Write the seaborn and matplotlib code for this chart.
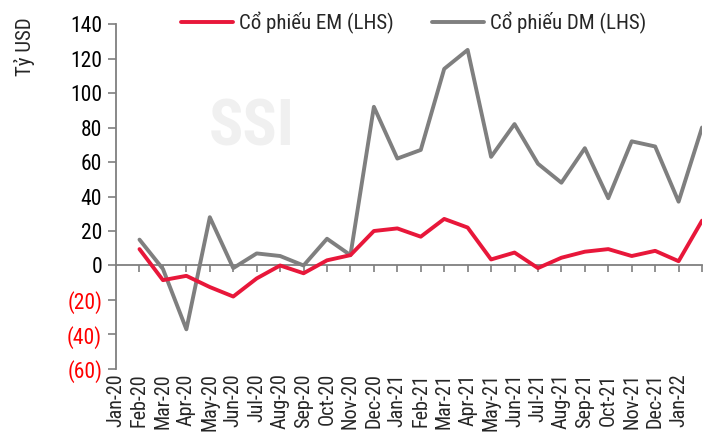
import numpy as np
import pandas as pd
import matplotlib
matplotlib.use("Agg")
import matplotlib.pyplot as plt
from matplotlib import font_manager
import seaborn as sns

# axis labels (Jan-20 .. Jan-22); the data points sit one slot to the right
month_labels = [
    "Jan-20", "Feb-20", "Mar-20", "Apr-20", "May-20", "Jun-20", "Jul-20",
    "Aug-20", "Sep-20", "Oct-20", "Nov-20", "Dec-20", "Jan-21", "Feb-21",
    "Mar-21", "Apr-21", "May-21", "Jun-21", "Jul-21", "Aug-21", "Sep-21",
    "Oct-21", "Nov-21", "Dec-21", "Jan-22",
]
em_flows = [9.5, -8.5, -6, -12.5, -18, -7.5, 0, -4.5, 3, 6, 20, 21.5, 16.7,
            27, 22, 3.5, 7.5, -1.5, 4.5, 8, 9.5, 5.5, 8.5, 2.5, 26]
dm_flows = [15, -2, -37, 28, -1.5, 7, 5.5, 0, 15.5, 6, 92, 62, 67, 114,
            125, 63, 82, 59, 48, 68, 39, 72, 69, 37, 80]
em_name = "Cổ phiếu EM (LHS)"
dm_name = "Cổ phiếu DM (LHS)"

RED = "#E8173A"
GREY = "#7F7F7F"

sns.set_style("white")
available = {f.name for f in font_manager.fontManager.ttflist}
main_font = next((f for f in ["Liberation Sans Narrow", "Roboto Condensed", "Liberation Sans"]
                  if f in available), "DejaVu Sans")
plt.rcParams["font.family"] = [main_font, "DejaVu Sans"]

df = pd.DataFrame({
    "pos": np.arange(1, len(em_flows) + 1),
    em_name: em_flows,
    dm_name: dm_flows,
})

fig = plt.figure(figsize=(7.12, 4.4), dpi=100)
ax = fig.add_axes([0.163, 0.1614, 0.823, 0.784])

# watermark
ax.text(0.232, 0.70, "SSI", transform=ax.transAxes, fontsize=46, fontweight="bold",
        color="#F0F0F0", ha="center", va="center", zorder=0)

sns.lineplot(data=df, x="pos", y=em_name, color=RED, lw=2.8, ax=ax, label=em_name, zorder=3)
sns.lineplot(data=df, x="pos", y=dm_name, color=GREY, lw=2.8, ax=ax, label=dm_name, zorder=2)

ax.set_xlim(0, len(em_flows))
ax.set_ylim(-60, 140)
ax.set_yticks(np.arange(-60, 141, 20))
ax.set_yticklabels([f"({abs(v)})" if v < 0 else f"{v}" for v in range(-60, 141, 20)])
for lbl, v in zip(ax.get_yticklabels(), range(-60, 141, 20)):
    lbl.set_color("#FF0000" if v < 0 else "black")
ax.tick_params(axis="y", direction="out", length=6, width=1.2, color=GREY,
               labelsize=15.5, pad=4, left=True)

ax.set_xticks(np.arange(len(month_labels)))
ax.set_xticklabels(month_labels, rotation=90)
ax.tick_params(axis="x", length=0, labelsize=14.5, pad=3)

for s in ["top", "right", "bottom"]:
    ax.spines[s].set_visible(False)
ax.spines["left"].set_color(GREY)
ax.spines["left"].set_linewidth(1.3)

# zero line with its own tick marks
zero_frac = 60 / 200
sec = ax.secondary_xaxis(zero_frac)
sec.set_xticks(np.arange(1, len(em_flows) + 1))
sec.set_xticklabels([])
sec.tick_params(axis="x", direction="out", length=5, width=1.2, color=GREY, bottom=True, top=False)
sec.xaxis.set_ticks_position("bottom")
sec.spines["bottom"].set_color(GREY)
sec.spines["bottom"].set_linewidth(1.3)
for s in ["top", "left", "right"]:
    sec.spines[s].set_visible(False)

ax.set_xlabel("")
ax.set_ylabel("")
fig.text(0.035, 0.893, "Tỷ USD", rotation=90, ha="center", va="center", fontsize=15)

ax.legend(loc="upper center", bbox_to_anchor=(0.508, 1.09), ncol=2, frameon=False,
          fontsize=15, handlelength=2.5, handletextpad=0.3, columnspacing=1.8)

fig.savefig("out.png", dpi=100)
